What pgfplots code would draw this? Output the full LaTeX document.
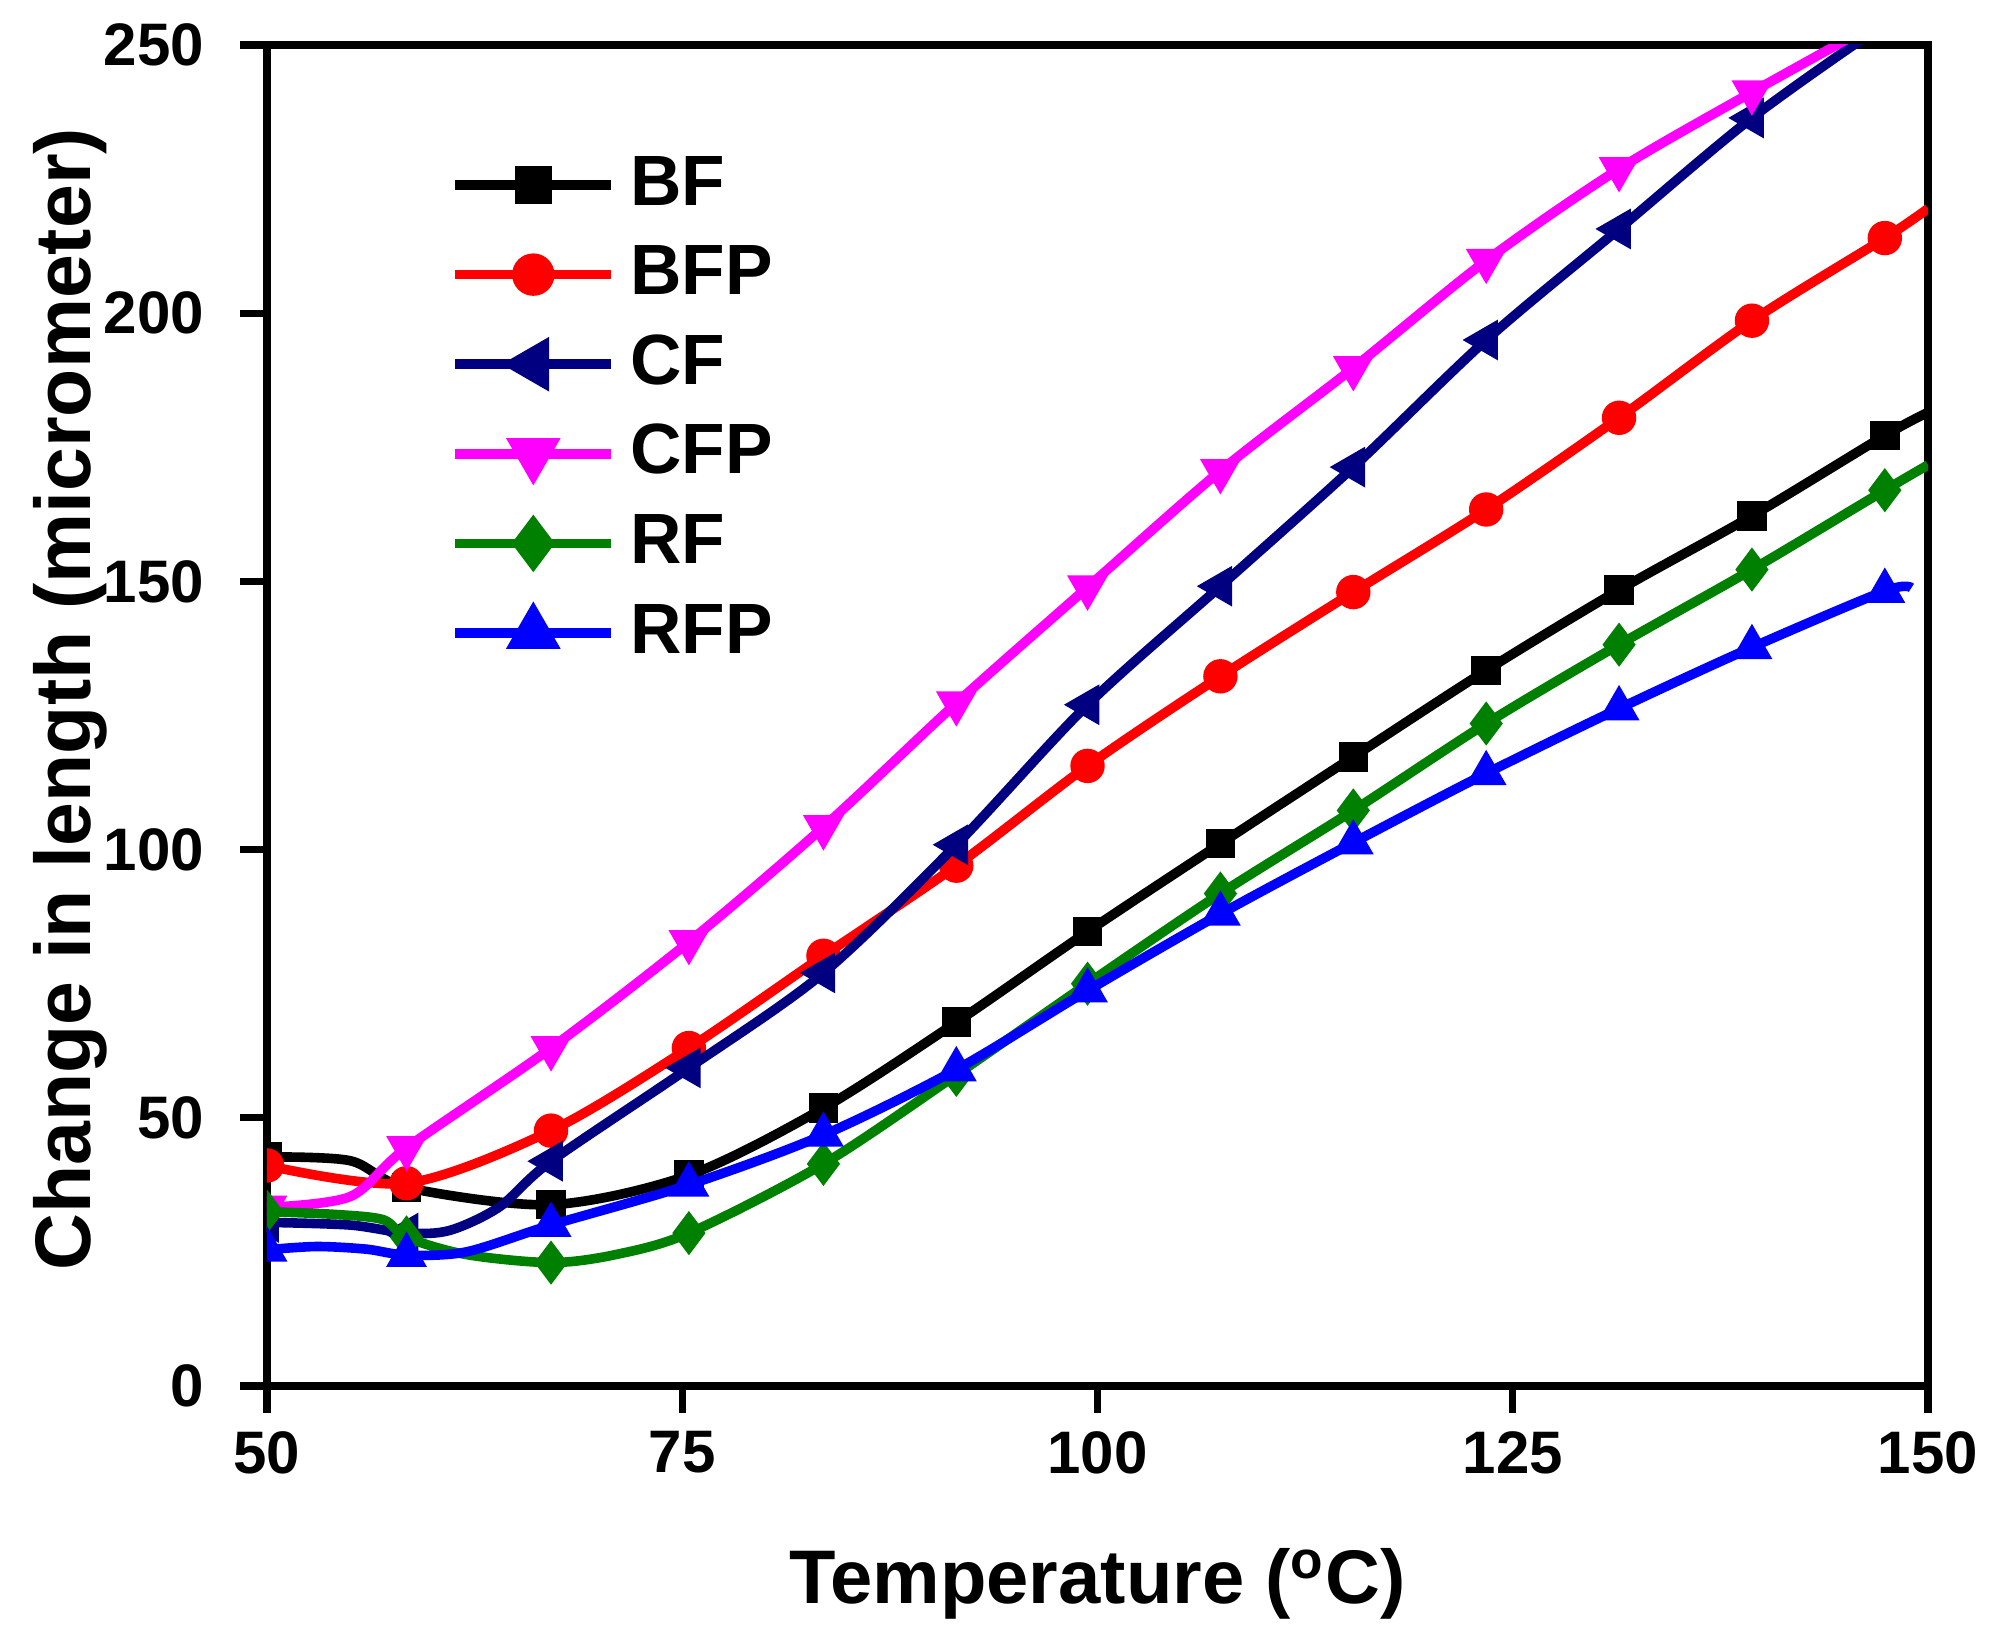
\documentclass[border=0pt]{standalone}
\usepackage{pgfplots}
\pgfplotsset{compat=1.18}
\usepackage{fontspec}
\setmainfont{Liberation Sans}
\definecolor{cnavy}{RGB}{0,0,128}
\definecolor{cgreen}{RGB}{0,128,0}
\definecolor{cmag}{RGB}{255,0,255}
\definecolor{cblue}{RGB}{0,0,255}
\definecolor{cred}{RGB}{255,0,0}
\begin{document}
\begin{tikzpicture}
\begin{axis}[
  scale only axis, width=415.25pt, height=335.25pt,
  xmin=50, xmax=150, ymin=0, ymax=250,
  xtick={50,75,100,125,150}, ytick={0,50,100,150,200,250},
  xtick pos=bottom, ytick pos=left, tick align=outside,
  major tick length=6.75pt, minor tick num=0,
  axis line style={line width=1.8pt},
  every tick/.style={black, line width=1.8pt},
  tick label style={font=\bfseries\fontsize{15}{18}\selectfont},
  yticklabel style={xshift=-5.5pt},
  xticklabel style={yshift=-1pt},
  /pgf/number format/assume math mode=true,
  xlabel={Temperature (\textsuperscript{o}C)},
  ylabel={Change in length (micrometer)},
  xlabel style={font=\bfseries\fontsize{19}{23}\selectfont, yshift=-11.8pt},
  ylabel style={font=\bfseries\fontsize{19.7}{23}\selectfont, inner sep=0pt,
    at={([xshift=-58.5pt]rel axis cs:0,0.512)}, anchor=north},
  clip marker paths=true,
  legend cell align=left,
  legend image code/.code={\draw[mark repeat=2,mark phase=2] plot coordinates {(0pt,0pt)(19.5pt,0pt)(39pt,0pt)};},
  legend style={at={(rel axis cs:0.110,0.926)}, anchor=north west, draw=none, fill=none,
    font=\bfseries\fontsize{17.8}{21}\selectfont, inner sep=0pt, row sep=2.4pt,
    nodes={text height=13pt, text depth=3pt, inner sep=2pt},
    /tikz/every odd column/.append style={column sep=1.6pt}},
]
\addlegendimage{black, line width=2.4pt, mark=square*, mark size=3.5pt}
\addlegendentry{BF}
\addlegendimage{cred, line width=2.4pt, mark=*, mark size=4.1pt}
\addlegendentry{BFP}
\addlegendimage{cnavy, line width=2.4pt, mark=triangle*, mark size=5.5pt, mark options={rotate=90}}
\addlegendentry{CF}
\addlegendimage{cmag, line width=2.4pt, mark=triangle*, mark size=5.5pt, mark options={rotate=180}}
\addlegendentry{CFP}
\addlegendimage{cgreen, line width=2.4pt, mark=diamond*, mark size=5.2pt}
\addlegendentry{RF}
\addlegendimage{cblue, line width=2.4pt, mark=triangle*, mark size=5.5pt}
\addlegendentry{RFP}

% BF
\addplot[black, line width=2.4pt, smooth, forget plot] coordinates {
(50,42.7)(55,42.0)(58.4,37.0)(67.1,33.8)(75.4,39.3)(83.5,51.8)(91.5,67.8)(99.4,84.7)(107.4,101.1)(115.4,117.3)(123.4,133.4)(131.4,148.4)(139.4,162.2)(147.4,177.2)(150,181.5)};
\addplot[black, only marks, mark=square*, mark size=3.5pt, forget plot] coordinates {
(50,42.7)(58.4,37.0)(67.1,33.8)(75.4,39.3)(83.5,51.8)(91.5,67.8)(99.4,84.7)(107.4,101.1)(115.4,117.3)(123.4,133.4)(131.4,148.4)(139.4,162.2)(147.4,177.2)};
% BFP
\addplot[cred, line width=2.4pt, smooth, forget plot] coordinates {
(50,41.1)(58.4,37.8)(67.1,47.6)(75.4,63.0)(83.5,80.2)(91.5,97.0)(99.4,115.6)(107.4,132.3)(115.4,148.0)(123.4,163.4)(131.4,180.5)(139.4,198.6)(147.4,214.0)(150,219.5)};
\addplot[cred, only marks, mark=*, mark size=4.1pt, forget plot] coordinates {
(50,41.1)(58.4,37.8)(67.1,47.6)(75.4,63.0)(83.5,80.2)(91.5,97.0)(99.4,115.6)(107.4,132.3)(115.4,148.0)(123.4,163.4)(131.4,180.5)(139.4,198.6)(147.4,214.0)};
% CF
\addplot[cnavy, line width=2.4pt, smooth, forget plot] coordinates {
(50,30.5)(55,30.0)(58.4,28.5)(61,29.0)(64,33.4)(67.1,41.9)(75.4,59.3)(83.5,77.0)(91.5,100.9)(99.4,127.0)(107.4,149.1)(115.4,171.3)(123.4,195.0)(131.4,215.7)(139.4,236.4)(147.4,254.0)(150,259.0)};
\addplot[cnavy, only marks, mark=triangle*, mark size=5.5pt, mark options={rotate=90}, forget plot] coordinates {
(50,30.5)(58.4,28.5)(67.1,41.9)(75.4,59.3)(83.5,77.0)(91.5,100.9)(99.4,127.0)(107.4,149.1)(115.4,171.3)(123.4,195.0)(131.4,215.7)(139.4,236.4)(147.4,254.0)};
% CFP
\addplot[cmag, line width=2.4pt, smooth, forget plot] coordinates {
(50,33.3)(55,35.3)(58.4,44.4)(67.1,63.0)(75.4,82.8)(83.5,104.2)(91.5,127.3)(99.4,148.9)(107.4,170.6)(115.4,189.8)(123.4,209.8)(131.4,226.9)(139.4,241.2)(147.4,255.0)(150,260.0)};
\addplot[cmag, only marks, mark=triangle*, mark size=5.5pt, mark options={rotate=180}, forget plot] coordinates {
(50,33.3)(58.4,44.4)(67.1,63.0)(75.4,82.8)(83.5,104.2)(91.5,127.3)(99.4,148.9)(107.4,170.6)(115.4,189.8)(123.4,209.8)(131.4,226.9)(139.4,241.2)(147.4,255.0)};
% RF
\addplot[cgreen, line width=2.4pt, smooth, forget plot] coordinates {
(50,32.5)(54,32.0)(57,31.0)(58.4,27.7)(62,24.5)(67.1,23.0)(71,24.5)(75.4,28.5)(83.5,41.4)(91.5,58.0)(99.4,75.0)(107.4,91.8)(115.4,107.3)(123.4,123.5)(131.4,138.2)(139.4,152.2)(147.4,167.0)(150,171.7)};
\addplot[cgreen, only marks, mark=diamond*, mark size=5.2pt, forget plot] coordinates {
(50,32.5)(58.4,27.7)(67.1,23.0)(75.4,28.5)(83.5,41.4)(91.5,58.0)(99.4,75.0)(107.4,91.8)(115.4,107.3)(123.4,123.5)(131.4,138.2)(139.4,152.2)(147.4,167.0)};
% RFP
\addplot[cblue, line width=2.4pt, smooth, forget plot] coordinates {
(50,25.4)(53,26.0)(56,25.5)(58.4,24.4)(62,25.0)(67.1,30.0)(75.4,37.5)(83.5,46.8)(91.5,59.0)(99.4,73.7)(107.4,88.0)(115.4,101.3)(123.4,114.2)(131.4,126.3)(139.4,137.7)(147.4,148.2)(149,148.8)};
\addplot[cblue, only marks, mark=triangle*, mark size=5.5pt, forget plot] coordinates {
(50,25.4)(58.4,24.4)(67.1,30.0)(75.4,37.5)(83.5,46.8)(91.5,59.0)(99.4,73.7)(107.4,88.0)(115.4,101.3)(123.4,114.2)(131.4,126.3)(139.4,137.7)(147.4,148.2)};
\end{axis}
\path (current axis.south west) +(-66.75pt,-63.75pt) rectangle ([shift={(18.25pt,11.25pt)}]current axis.north east);
\end{tikzpicture}
\end{document}
